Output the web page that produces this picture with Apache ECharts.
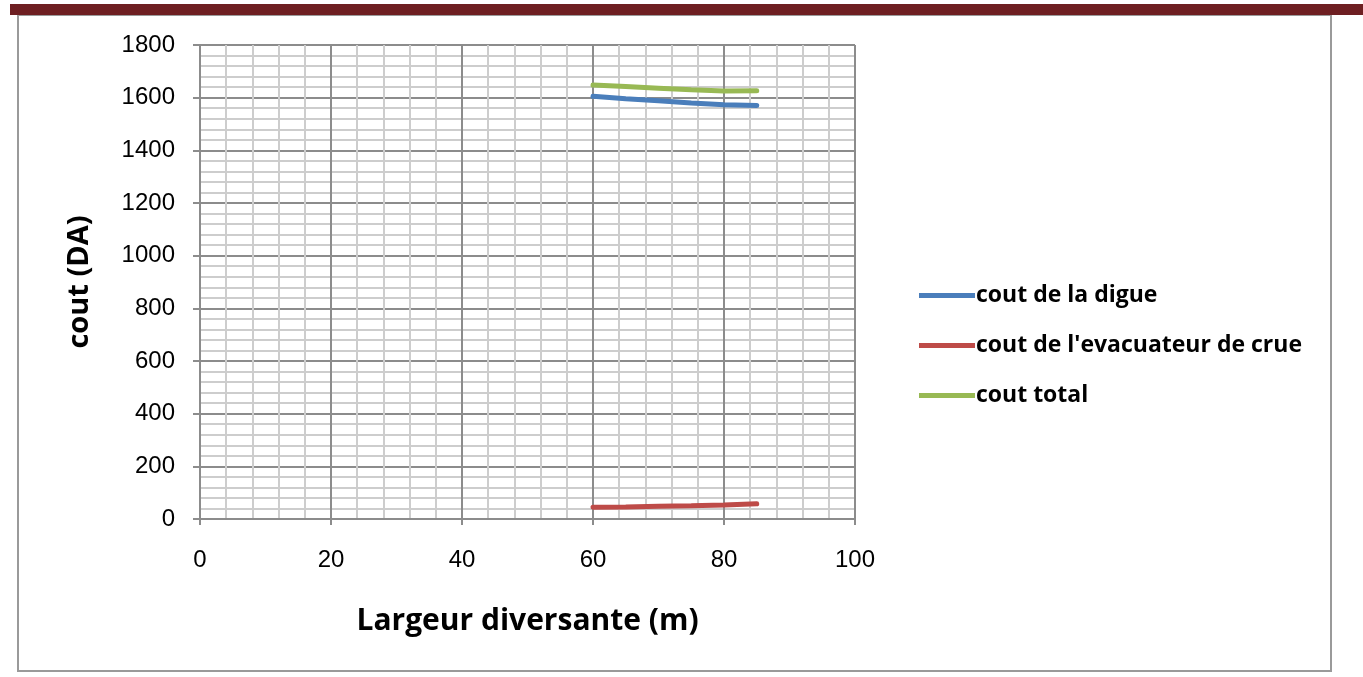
<!DOCTYPE html>
<html><head><meta charset="utf-8">
<script src="https://cdn.jsdelivr.net/npm/echarts@6/dist/echarts.min.js"></script>
<style>html,body{margin:0;padding:0;background:#fff}#c{width:1363px;height:677px}</style>
</head><body><div id="c"></div>
<script>
const largeur = [60, 65, 70, 75, 80, 85];
const coutDigue = [1605, 1596, 1588, 1580, 1573, 1570];
const coutEvacuateur = [45, 46, 48, 50, 53, 58];
const coutTotal = [1648, 1642, 1636, 1630, 1625, 1626];
const seriesNames = ['cout de la digue', "cout de l'evacuateur de crue", 'cout total'];
const seriesColors = ['#4a7ebb', '#be4b48', '#98b954'];

const chart = echarts.init(document.getElementById('c'));
const mk = (name, vals, color) => ({
  name, type: 'line', data: largeur.map((x, i) => [x, vals[i]]),
  showSymbol: false, symbol: 'none',
  lineStyle: { color, width: 5, cap: 'round' }, itemStyle: { color }
});
chart.setOption({
  animation: false,
  backgroundColor: '#fff',
  graphic: [
    { type: 'rect', shape: { x: 10, y: 4, width: 1353, height: 11 }, style: { fill: '#6e1f22' }, z: 10 },
    { type: 'rect', shape: { x: 18, y: 15, width: 1313, height: 656 }, style: { fill: 'none', stroke: '#9a9a9a', lineWidth: 2 }, z: 1 }
  ],
  grid: { left: 200, right: 508, top: 45, bottom: 158 },
  legend: {
    orient: 'vertical', left: 914, top: 278,
    itemWidth: 56, itemHeight: 5, itemGap: 25, icon: 'rect',
    textStyle: { fontFamily: 'Open Sans', fontWeight: 'bold', fontSize: 23, color: '#000', lineHeight: 25, padding: [0,0,0,-4] },
    data: seriesNames
  },
  xAxis: {
    type: 'value', min: 0, max: 100, interval: 20,
    name: 'Largeur diversante (m)', nameLocation: 'middle', nameGap: 87,
    nameTextStyle: { fontFamily: 'Open Sans', fontWeight: 'bold', fontSize: 30, color: '#000' },
    axisLine: { show: true, onZero: false, lineStyle: { color: '#8c8c8c', width: 2 } },
    axisTick: { show: true, length: 6, lineStyle: { color: '#8c8c8c', width: 2 } },
    axisLabel: { fontFamily: 'Liberation Sans', fontSize: 24, color: '#000', margin: 29 },
    splitLine: { show: true, lineStyle: { color: '#8c8c8c', width: 2 } },
    minorTick: { show: false, splitNumber: 5 },
    minorSplitLine: { show: true, lineStyle: { color: '#cdcdcd', width: 2 } }
  },
  yAxis: {
    type: 'value', min: 0, max: 1800, interval: 200,
    name: 'cout (DA)', nameLocation: 'middle', nameGap: 106, nameRotate: 90,
    nameTextStyle: { fontFamily: 'Open Sans', fontWeight: 'bold', fontSize: 29, color: '#000' },
    axisLine: { show: true, onZero: false, lineStyle: { color: '#8c8c8c', width: 2 } },
    axisTick: { show: true, length: 7, lineStyle: { color: '#8c8c8c', width: 2 } },
    axisLabel: { fontFamily: 'Liberation Sans', fontSize: 24, color: '#000', margin: 25, formatter: v => String(v) },
    splitLine: { show: true, lineStyle: { color: '#8c8c8c', width: 2 } },
    minorTick: { show: false, splitNumber: 5 },
    minorSplitLine: { show: true, lineStyle: { color: '#cdcdcd', width: 2 } }
  },
  series: [
    mk(seriesNames[0], coutDigue, seriesColors[0]),
    mk(seriesNames[1], coutEvacuateur, seriesColors[1]),
    mk(seriesNames[2], coutTotal, seriesColors[2])
  ]
});
</script></body></html>
